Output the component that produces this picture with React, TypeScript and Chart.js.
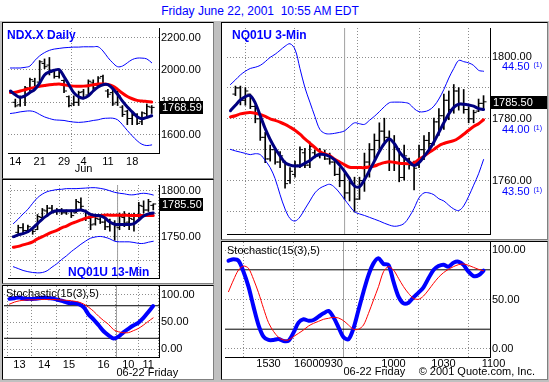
import React, { useEffect, useRef } from "react";
import { Chart, registerables } from "chart.js";
Chart.register(...registerables);

const FONT = "Arial, 'Liberation Sans', Helvetica, sans-serif";

// ---------------- NDX.X Daily ----------------
const D_TICKS = [0, 5, 10, 13, 14, 19, 24];
const D_TICK_LABELS = ["14", "21", "29", "", "4", "11", "18"];
const D_MONTH_LABEL = "Jun";
const D_HIGH = [1820,1840,1899,1949,1949,2058,2068,2077,1998,1998,1939,1840,1840,1869,1880,1939,1939,1959,1969,1880,1880,1869,1780,1751,1742,1731,1742,1790,1780];
const D_LOW = [1771,1775,1780,1869,1879,1919,2008,1969,1949,1949,1860,1771,1779,1780,1820,1840,1880,1899,1909,1830,1780,1780,1712,1662,1662,1662,1662,1701,1731];
const D_OPEN = [1800,1785,1830,1880,1930,1925,2040,2030,1990,1960,1935,1835,1790,1800,1865,1845,1920,1905,1960,1870,1860,1800,1770,1745,1700,1725,1680,1730,1770];
const D_CLOSE = [1778,1830,1890,1940,1900,2050,2020,1985,1960,1990,1870,1780,1800,1860,1830,1930,1890,1950,1915,1850,1790,1840,1725,1700,1720,1670,1735,1775,1768.59];
const D_FAST = [1870,1846,1830,1840,1860,1880,1919,1969,1988,1998,2002,1959,1909,1860,1834,1826,1840,1870,1895,1909,1909,1885,1850,1807,1771,1741,1711,1699,1707,1717];
const D_SLOW = [1860,1862,1870,1878,1886,1892,1899,1904,1909,1911,1913,1908,1903,1900,1899,1900,1903,1908,1913,1913,1910,1900,1880,1856,1836,1822,1812,1808,1805,1802];
const D_UP = [2012,2012,2012,2016,2024,2058,2087,2107,2121,2129,2133,2137,2139,2141,2141,2143,2143,2143,2143,2117,2077,2044,2020,2024,2044,2064,2073,2073,2068,2044];
const D_LO = [1731,1735,1741,1745,1747,1741,1725,1710,1700,1692,1690,1688,1682,1678,1676,1678,1682,1688,1692,1700,1702,1702,1692,1662,1626,1593,1563,1541,1533,1537];
const D_Y_TICKS = [1600, 1800, 2000, 2200];
const D_LAST = 1768.59;

// ---------------- NQ01U 13-Min ----------------
const M_TICKS = [1, 6, 11, 18, 23, 27];
const M_TICK_LABELS = ["13", "14", "15", "16", "10", "11"];
const M_SESSION_BREAK = 20.6;
const M_HIGH = [1762.7,1764.4,1762.7,1759.5,1774.2,1780.7,1784,1784,1780.7,1780.7,1779.1,1779.1,1790.5,1792,1779.1,1772.5,1772.5,1770.9,1770.9,1769.3,1767.6,1775.8,1777.4,1775.8,1775.8,1787.2,1788.9,1790.5,1785.6];
const M_LOW = [1752.9,1754.6,1754.6,1752.9,1757.8,1769.3,1772.5,1775.8,1774.2,1774.2,1774.2,1770.9,1775.8,1779,1767.6,1757.8,1762.7,1764.4,1757.8,1756.2,1746.4,1757.8,1761.1,1757.8,1756.2,1770.9,1775.8,1777.4,1779.1];
const M_OPEN = [1755,1760,1757,1758,1758,1771,1778,1781,1777,1779,1776,1778,1776,1787,1778,1770,1764,1769,1766,1761,1765,1760,1771,1766,1769,1774,1783,1779,1784];
const M_CLOSE = [1760,1757,1761,1756,1772,1779,1781,1777,1779,1776,1778,1773,1788,1783,1770,1763,1770,1766,1761,1765,1762,1772,1765,1770,1774,1784,1779,1788,1785.5];
const M_FAST = [1750.3,1752.3,1753.6,1755.6,1759.5,1764.4,1769.3,1773.2,1776.8,1778.1,1778.1,1778.1,1778.1,1778.4,1779.1,1777.4,1774.2,1773.2,1772.9,1770.3,1766,1763.7,1763.4,1763.4,1763.4,1764.4,1768.3,1772.5,1774.8,1775.8];
const M_SLOW = [1738.9,1739.9,1741.5,1742.8,1744.8,1748,1750.3,1752.9,1755.2,1757.2,1759.8,1761.8,1764.4,1766.3,1768.3,1770.3,1771.6,1772.5,1773.2,1773.5,1773.5,1773.5,1773.4,1773.3,1773.2,1773.1,1773,1773,1773,1773];
const M_UP = [1764.4,1769.3,1774.8,1779.7,1786.3,1792.2,1796.1,1798.7,1800,1801,1801.3,1802,1802,1802,1802.3,1802.6,1803,1803,1802.3,1801.3,1799.7,1798,1797,1796.4,1795.4,1795.4,1796.4,1797,1796.4,1795.1];
const M_LO = [1718,1716,1714,1712.7,1711.8,1711.4,1711.8,1713.7,1717.6,1721.2,1725.8,1729.7,1734.3,1738.2,1742.2,1745.7,1748.7,1750,1750.6,1749.7,1748,1745.4,1744.8,1744.8,1744.8,1744.1,1743.1,1743.1,1744.4,1745.4];
const M_Y_TICKS = [1725, 1750, 1775, 1800];
const M_Y_LABELED = [1750, 1800];
const M_LAST = 1785.5;
const M_STOCH_K = [92.7,94,95.2,92.7,92.7,92.7,94,95.2,94,92.7,90.3,87.9,84.9,84.9,83,77,63.6,54.5,44,33,25.5,19.5,23,31,37.5,43.5,48.5,57,68,79.5];
const M_STOCH_D = [83,86.7,89.1,90.3,90.9,90.9,91.5,91.5,91.5,91.5,90.9,90.3,89.7,88.5,86.7,83,77,69.7,60.6,52.7,45.5,36,32,30.3,30.3,34,38,44,51,57.6];

// ---------------- NQ01U 3-Min ----------------
const T_TICKS = [0, 10, 25, 35, 45];
const T_TICK_LABELS = ["1530", "16000930", "1000", "1030", "1100"];
const T_SESSION_BREAK = 15;
const T_HIGH = [1790.6,1790.6,1790.1,1788,1784.4,1780.8,1775.6,1771.5,1770.4,1769.4,1766.3,1764.2,1766.3,1770.9,1770.4,1772.5,1769.9,1770.4,1769.9,1768.9,1766.8,1764.2,1762.7,1761.1,1761.1,1761.1,1768.9,1772,1775.1,1778.7,1780.2,1776.1,1774.6,1770.4,1771.5,1767.3,1766.3,1771.5,1774.6,1775.6,1780.2,1783.3,1788,1789,1791.1,1790.1,1789.5,1783.9,1782.8,1786.4,1787.5];
const T_LOW = [1787.5,1784.5,1784.4,1783.3,1778.7,1773,1765.8,1766.3,1765.3,1764.2,1757.5,1759.1,1761.1,1764.2,1764.2,1764.2,1767.3,1767.3,1766.8,1765.3,1761.6,1758,1753.9,1753.4,1749.8,1753.9,1756.5,1761.1,1766.8,1769.4,1772.5,1763.2,1763.2,1759.6,1760.1,1763.7,1757,1764.2,1766.8,1768.9,1771.5,1774.6,1776.6,1779.7,1781.8,1782.8,1781.8,1778.7,1778.7,1782.3,1783.4];
const T_OPEN = [1788,1790,1786,1788,1784,1780,1774,1767,1770,1766,1766,1760,1762,1765,1769,1765,1769,1768,1769,1767,1766,1762,1760,1756,1759,1754,1760,1766,1770,1773,1776,1774,1766,1770,1761,1767,1765,1765,1770,1773,1772,1779,1781,1786,1783,1789,1785,1783,1780,1782.5,1785];
const T_CLOSE = [1790,1786,1789,1784,1780,1774,1767,1770,1766,1768,1759,1763,1765,1770,1765,1771,1768,1769,1767,1766,1762,1760,1756,1759,1754,1760,1766,1770,1773,1776,1774,1766,1771,1761,1768,1765,1764,1770,1773,1772,1779,1781,1786,1783,1789,1785,1783,1780,1782,1785,1785.5];
const T_FAST = [1782.6,1784.4,1786.1,1787.2,1787.5,1785.1,1781,1776.8,1773.3,1770.4,1768,1765.8,1765,1764.7,1764.8,1765.6,1766.5,1767.8,1768.5,1768.4,1767.8,1766.7,1765,1763,1760.6,1758.2,1758,1760.3,1763.2,1766.3,1769.4,1772,1773.5,1772,1769.4,1767.5,1766.1,1764.9,1765.8,1767.8,1769.9,1772.5,1775.6,1778.7,1781.6,1783.7,1784.7,1784.7,1784.5,1784.1,1783.3,1783];
const T_SLOW = [1780.6,1781,1781.6,1781.9,1782,1781.8,1781.4,1780.8,1780,1779.5,1778.9,1778.2,1777.3,1776.3,1775,1773.5,1772.1,1770.7,1769.4,1768.6,1768.1,1766.9,1766,1765.1,1764.3,1764.2,1764.2,1764.2,1764.4,1764.7,1765.3,1765.8,1766.1,1765.9,1765.6,1765.5,1765.5,1765.7,1766.9,1767.9,1769.1,1770.1,1771.3,1772,1772.5,1772.9,1773.8,1775,1776.3,1777.5,1778.4,1779.7];
const T_UP = [1791.1,1792.6,1794.2,1795.4,1796.3,1796.7,1797.3,1798.5,1799.9,1800.9,1802.2,1803.5,1804.3,1802.5,1796.3,1790.1,1785.4,1780.8,1776.6,1775.3,1775.1,1775.3,1775.6,1776.1,1777.5,1778.7,1778.4,1778.2,1779.5,1780.8,1782.3,1783.9,1785.2,1785.4,1785.4,1785.3,1784.9,1783.3,1782.3,1782.3,1782.8,1784.1,1786.4,1789.5,1793.2,1796.3,1798.9,1798.5,1798.1,1797.3,1795.7,1795.4];
const T_LO = [1770.1,1769.6,1769.2,1768.8,1768.4,1768.7,1768.4,1766.5,1764.2,1760.6,1755.4,1750.8,1747.7,1746.9,1748.2,1750.8,1753.4,1756,1757.5,1758.3,1758.8,1757.8,1756,1753.9,1751.8,1749.9,1749.2,1748.7,1748.1,1747.5,1746.9,1746.2,1745.6,1745.2,1745.4,1746.1,1748.2,1751,1754.4,1756,1756,1755.4,1754.1,1753.4,1752,1750.8,1750.3,1751.8,1754.9,1758.5,1762.2,1766.8];
const T_Y_TICKS = [1750, 1760, 1770, 1780, 1790, 1800];
const T_Y_LABELED = [1760, 1780, 1800];
const T_ALT_TICKS = [43.5, 44.0, 44.5];
const T_LAST = 1785.5;
const T_STOCH_K = [89.2,90.6,89.2,78.1,63,42.8,24.2,12.5,9.1,9.1,10.1,8.1,8.4,16.5,26.6,30,28.6,29.3,32.7,36,38.4,32,21.9,11.8,9.8,20.9,39.4,57.9,74.7,86.5,91.6,85.9,84.9,68,52.9,46.1,46.8,52.2,56.9,62.3,71.4,79.8,83.8,85.2,83.2,87.2,88.2,84.9,78.1,73.7,74.4,79.1];
const T_STOCH_D = [57.9,69.7,79.8,83.8,81.5,70.4,56.9,41.1,26.6,17.8,11.8,9.1,9.1,12.5,15.8,19.2,23.2,25.9,27.9,30,31,32,31.3,28.6,24.2,19.9,19.9,24.2,36,49.5,63,78.1,83.2,79.8,71.4,63,56.2,51.2,50.2,53.5,59.6,66.3,72.4,77.1,80.5,83.2,85.2,85.9,84.5,82.5,80.5,79.1];

const STOCH_TICKS = [0, 50, 100];
const STOCH_LEVELS = [20, 80];
const DATE_LABEL = "06-22 Friday";

// ---------------- helpers ----------------
const range = (start: number, n: number) => Array.from({ length: n }, (_, i) => start + i);

function ohlcSets(xs: number[], hi: number[], lo: number[], op: number[], cl: number[], off: number, r: number) {
  const tick = (dx: number, vals: number[]) => ({
    type: "line",
    data: xs.map((x, i) => ({ x: x + dx, y: vals[i] })),
    showLine: false,
    pointStyle: "line",
    pointRadius: r,
    pointBorderWidth: 1,
    pointBorderColor: "#000",
    borderColor: "#000",
    order: 9,
  });
  return [
    {
      type: "bar",
      data: xs.map((x, i) => ({ x, y: [lo[i], hi[i]] })),
      backgroundColor: "#000",
      borderWidth: 0,
      barThickness: 1,
      grouped: false,
      order: 10,
    },
    tick(-off, op),
    tick(off, cl),
  ];
}

function lineSet(xs: number[], ys: number[], color: string, width: number, order: number, tension = 0.35) {
  return {
    type: "line",
    data: ys.map((y, i) => ({ x: xs[i], y })),
    borderColor: color,
    backgroundColor: color,
    borderWidth: width,
    pointRadius: 0,
    tension,
    fill: false,
    order,
    borderCapStyle: "round",
    borderJoinStyle: "round",
  };
}

function segment(x0: number, y0: number, x1: number, y1: number, color: string, order: number) {
  return {
    type: "line",
    data: [{ x: x0, y: y0 }, { x: x1, y: y1 }],
    borderColor: color,
    borderWidth: 1,
    pointRadius: 0,
    tension: 0,
    order,
  };
}

function yAxis(min: number, max: number, ticks: number[], labeled: number[] | null, width: number) {
  return {
    type: "linear",
    position: "right",
    min,
    max,
    afterBuildTicks: (s: any) => { s.ticks = ticks.map((v) => ({ value: v })); },
    afterFit: (s: any) => { s.width = width; s.paddingTop = 0; s.paddingBottom = 0; },
    ticks: {
      autoSkip: false,
      padding: 2,
      color: "#000",
      font: { family: FONT, size: 11 },
      callback: (v: number) => (!labeled || labeled.includes(v) ? v.toFixed(2) : ""),
    },
    grid: { color: "#8c8c8c", drawTicks: false, lineWidth: 1 },
    border: { display: true, color: "#000", width: 1, dash: [1, 2] },
  };
}

function xAxis(min: number, max: number, ticks: number[], labels: string[] | null, height: number, pad: number, gridOn?: number[]) {
  return {
    type: "linear",
    min,
    max,
    offset: false,
    afterBuildTicks: (s: any) => { s.ticks = ticks.map((v) => ({ value: v })); },
    afterFit: (s: any) => { s.height = height; s.paddingLeft = 0; s.paddingRight = 0; },
    ticks: {
      display: !!labels,
      autoSkip: false,
      maxRotation: 0,
      minRotation: 0,
      padding: pad,
      color: "#000",
      font: { family: FONT, size: 11 },
      callback: (_v: number, i: number) => (labels ? labels[i] : ""),
    },
    grid: {
      drawTicks: false,
      color: (ctx: any) =>
        !gridOn || (ctx.tick && gridOn.includes(ctx.tick.value)) ? "#8c8c8c" : "rgba(0,0,0,0)",
    },
    border: { display: true, color: "#000", width: 1, dash: [1, 2] },
  };
}

function lastPricePlugin(value: number, boxWidth: number) {
  return {
    id: "lastPrice",
    afterDraw(chart: any) {
      const ctx = chart.ctx;
      const y = Math.round(chart.scales.y.getPixelForValue(value));
      const x0 = chart.chartArea.right + 1;
      ctx.save();
      ctx.fillStyle = "#000";
      ctx.fillRect(x0, y - 6, boxWidth, 13);
      ctx.fillStyle = "#fff";
      ctx.font = `11px ${FONT}`;
      ctx.textBaseline = "middle";
      ctx.textAlign = "left";
      ctx.fillText(value.toFixed(2), x0 + 2, y + 1);
      ctx.restore();
    },
  };
}

// secondary (blue) price labels read through the hidden y2 scale
function altLabelPlugin(ticks: number[], color: string, dx: number) {
  return {
    id: "altLabels",
    afterDatasetsDraw(chart: any) {
      const ctx = chart.ctx;
      const sc = chart.scales.y2;
      ctx.save();
      ctx.fillStyle = color;
      ctx.textBaseline = "middle";
      ctx.textAlign = "left";
      for (const v of ticks) {
        const y = sc.getPixelForValue(v);
        const x = chart.chartArea.right + dx;
        ctx.font = `11px ${FONT}`;
        const t = v.toFixed(2);
        ctx.fillText(t, x, y);
        const w = ctx.measureText(t).width;
        ctx.font = `7px ${FONT}`;
        ctx.fillText("(1)", x + w + 4, y - 2);
      }
      ctx.restore();
    },
  };
}

type FooterItem = { xValue?: number; px?: number; text: string; align: CanvasTextAlign; dy: number };
function footerPlugin(items: FooterItem[]) {
  return {
    id: "footer",
    afterDraw(chart: any) {
      const ctx = chart.ctx;
      ctx.save();
      ctx.font = `11px ${FONT}`;
      ctx.fillStyle = "#000";
      ctx.textBaseline = "middle";
      for (const it of items) {
        const x = it.xValue !== undefined ? chart.scales.x.getPixelForValue(it.xValue) : (it.px as number);
        ctx.textAlign = it.align;
        ctx.fillText(it.text, x, chart.chartArea.bottom + it.dy);
      }
      ctx.restore();
    },
  };
}

function baseConfig(datasets: any[], scales: any, padding: any, plugins: any[]) {
  return {
    type: "bar",
    data: { datasets },
    options: {
      responsive: false,
      animation: false,
      devicePixelRatio: 1,
      events: [],
      layout: { padding },
      plugins: { legend: { display: false }, tooltip: { enabled: false } },
      scales,
    },
    plugins,
  };
}

// ---------------- chart builders ----------------
const NAVY = "#000080";
const RED = "#ff0000";
const BLUE = "#0000ff";
const SEP = "#a0a0a0";

function buildDaily() {
  const bx = range(0, D_HIGH.length);
  const lx = range(-1, D_FAST.length);
  const xMin = -1.5, xMax = 29.5;
  const datasets = [
    ...ohlcSets(bx, D_HIGH, D_LOW, D_OPEN, D_CLOSE, 0.3, 1.5),
    lineSet(lx, D_UP, BLUE, 1, 6),
    lineSet(lx, D_LO, BLUE, 1, 6),
    lineSet(lx, D_SLOW, RED, 3, 4),
    lineSet(lx, D_FAST, NAVY, 3, 3),
  ];
  return baseConfig(
    datasets,
    {
      x: xAxis(xMin, xMax, D_TICKS, D_TICK_LABELS, 25, 2, [13]),
      y: yAxis(1487, 2259, D_Y_TICKS, null, 54),
    },
    { left: 1, top: 0, right: 0, bottom: 0 },
    [lastPricePlugin(D_LAST, 43), footerPlugin([{ xValue: 14, text: D_MONTH_LABEL, align: "center", dy: 16 }])]
  );
}

function build13() {
  const bx = range(0, M_HIGH.length);
  const lx = range(-1, M_FAST.length);
  const xMin = -2.12, xMax = 29.19;
  const datasets = [
    segment(M_SESSION_BREAK, 1705.9, M_SESSION_BREAK, 1805.9, SEP, 20),
    ...ohlcSets(bx, M_HIGH, M_LOW, M_OPEN, M_CLOSE, 0.3, 1.5),
    lineSet(lx, M_UP, BLUE, 1, 6),
    lineSet(lx, M_LO, BLUE, 1, 6),
    lineSet(lx, M_SLOW, RED, 3, 4),
    lineSet(lx, M_FAST, NAVY, 3, 3),
  ];
  return baseConfig(
    datasets,
    {
      x: xAxis(xMin, xMax, M_TICKS, null, 0, 0),
      y: yAxis(1705.9, 1805.9, M_Y_TICKS, M_Y_LABELED, 54),
    },
    { left: 1, top: 0, right: 0, bottom: 1 },
    [lastPricePlugin(M_LAST, 43)]
  );
}

function buildStoch13() {
  const lx = range(-1, M_STOCH_K.length);
  const xMin = -2.12, xMax = 29.19;
  const datasets = [
    segment(M_SESSION_BREAK, -14.5, M_SESSION_BREAK, 116.4, SEP, 20),
    ...STOCH_LEVELS.map((lv) => segment(xMin, lv, xMax, lv, "#000", 8)),
    lineSet(lx, M_STOCH_K, BLUE, 4, 2, 0.3),
    lineSet(lx, M_STOCH_D, RED, 1, 1, 0.3),
  ];
  return baseConfig(
    datasets,
    {
      x: xAxis(xMin, xMax, M_TICKS, M_TICK_LABELS, 22, 1),
      y: yAxis(-14.5, 116.4, STOCH_TICKS, null, 54),
    },
    { left: 1, top: 0, right: 0, bottom: 0 },
    [footerPlugin([{ xValue: M_SESSION_BREAK, text: DATE_LABEL, align: "left", dy: 16 }])]
  );
}

function build3() {
  const bx = range(-7, T_HIGH.length);
  const lx = range(-8, T_FAST.length);
  const xMin = -8.7, xMax = 44.3;
  const datasets = [
    segment(T_SESSION_BREAK, 1742.7, T_SESSION_BREAK, 1809.4, SEP, 20),
    ...ohlcSets(bx, T_HIGH, T_LOW, T_OPEN, T_CLOSE, 0.3, 1.5),
    lineSet(lx, T_UP, BLUE, 1, 6),
    lineSet(lx, T_LO, BLUE, 1, 6),
    lineSet(lx, T_SLOW, RED, 3, 4),
    lineSet(lx, T_FAST, NAVY, 3, 3),
  ];
  return baseConfig(
    datasets,
    {
      x: xAxis(xMin, xMax, T_TICKS, null, 0, 0),
      y: yAxis(1742.7, 1809.4, T_Y_TICKS, T_Y_LABELED, 57),
      y2: { type: "linear", display: false, min: 43.162, max: 44.815 },
    },
    { left: 3, top: 0, right: 0, bottom: 1 },
    [altLabelPlugin(T_ALT_TICKS, BLUE, 12), lastPricePlugin(T_LAST, 57)]
  );
}

function buildStoch3() {
  const lx = range(-8, T_STOCH_K.length);
  const xMin = -8.7, xMax = 44.3;
  const datasets = [
    segment(T_SESSION_BREAK, -8.1, T_SESSION_BREAK, 108.1, SEP, 20),
    ...STOCH_LEVELS.map((lv) => segment(xMin, lv, xMax, lv, "#000", 8)),
    lineSet(lx, T_STOCH_K, BLUE, 4, 2, 0.3),
    lineSet(lx, T_STOCH_D, RED, 1, 1, 0.3),
  ];
  return baseConfig(
    datasets,
    {
      x: xAxis(xMin, xMax, T_TICKS, T_TICK_LABELS, 22, 0),
      y: yAxis(-8.1, 108.1, STOCH_TICKS, null, 57),
    },
    { left: 3, top: 0, right: 0, bottom: 0 },
    [
      footerPlugin([
        { xValue: T_SESSION_BREAK, text: DATE_LABEL, align: "left", dy: 15 },
        { px: 313, text: "\u00A9 2001 Quote.com, Inc.", align: "right", dy: 15 },
      ]),
    ]
  );
}

// ---------------- components ----------------
function Panel({ left, top, width, height, build }: { left: number; top: number; width: number; height: number; build: () => any }) {
  const ref = useRef<HTMLCanvasElement>(null);
  useEffect(() => {
    const chart = new Chart(ref.current as HTMLCanvasElement, build());
    return () => chart.destroy();
  }, []);
  return (
    <div
      style={{
        position: "absolute",
        left: left - 1,
        top: top - 1,
        width,
        height,
        background: "#fff",
        borderTop: "1px solid #000",
        borderLeft: "1px solid #000",
        borderRight: "1px solid #808080",
        borderBottom: "1px solid #808080",
      }}
    >
      <canvas ref={ref} width={width} height={height} style={{ display: "block", width, height }} />
    </div>
  );
}

function Label({ left, top, text, size, bold, color }: { left: number; top: number; text: string; size: number; bold?: boolean; color: string }) {
  return (
    <div
      style={{
        position: "absolute",
        left,
        top,
        fontFamily: FONT,
        fontSize: size,
        lineHeight: `${size}px`,
        fontWeight: bold ? "bold" : "normal",
        color,
        whiteSpace: "pre",
        pointerEvents: "none",
      }}
    >
      {text}
    </div>
  );
}

export default function App() {
  return (
    <div style={{ position: "absolute", left: 0, top: 0, width: 549, height: 382, background: "#fff", overflow: "hidden" }}>
      <div style={{ position: "absolute", left: 0, top: 21, width: 549, height: 361, background: "#c0c0c0" }} />
      <div
        style={{
          position: "absolute",
          left: 0,
          top: 5,
          width: 520,
          textAlign: "center",
          fontFamily: FONT,
          fontSize: 12,
          lineHeight: "12px",
          color: BLUE,
          whiteSpace: "pre",
        }}
      >
        {"Friday June 22, 2001  10:55 AM EDT"}
      </div>
      <Panel left={3} top={23} width={210} height={155} build={buildDaily} />
      <Panel left={3} top={180} width={210} height={103} build={build13} />
      <Panel left={3} top={286} width={210} height={93} build={buildStoch13} />
      <Panel left={222} top={23} width={325} height={216} build={build3} />
      <Panel left={222} top={242} width={325} height={137} build={buildStoch3} />
      <Label left={7} top={29} text="NDX.X Daily" size={12} bold color={BLUE} />
      <Label left={232} top={29} text="NQ01U 3-Min" size={12} bold color={BLUE} />
      <Label left={68} top={266} text="NQ01U 13-Min" size={12} bold color={BLUE} />
      <Label left={6} top={288} text="Stochastic(15(3),5)" size={11} color="#000" />
      <Label left={227} top={245} text="Stochastic(15(3),5)" size={11} color="#000" />
    </div>
  );
}
